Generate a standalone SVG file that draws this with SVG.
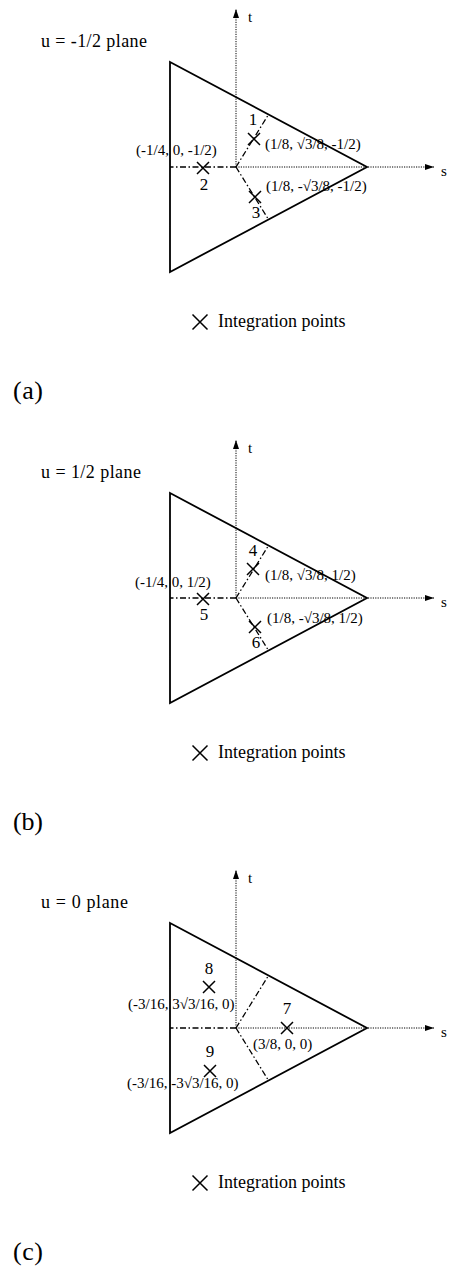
<svg xmlns="http://www.w3.org/2000/svg" width="449" height="1274" viewBox="0 0 449 1274">
<defs>
<style>
text{font-family:"Liberation Serif","Times New Roman",serif;fill:#000}
.tri{fill:none;stroke:#000;stroke-width:1.8;stroke-linejoin:miter}
.axis{fill:none;stroke:#000;stroke-width:1;stroke-dasharray:1.2,1.2}
.dd{fill:none;stroke:#000;stroke-width:1.3;stroke-dasharray:6,2.5,1.5,2.5}
.x{fill:none;stroke:#000;stroke-width:1.5}
.title{font-size:18px}
.num{font-size:17px;text-anchor:middle}
.co{font-size:15px}
.leg{font-size:18px}
.cap{font-size:26px}
</style>
<marker id="arr" markerWidth="10" markerHeight="8" refX="9" refY="4" orient="auto" markerUnits="userSpaceOnUse">
<path d="M0,1 L9,4 L0,7 Z" fill="#000"/>
</marker>
<g id="frame">
<polyline class="axis" points="236,167 236,9" marker-end="url(#arr)"/>
<polyline class="axis" points="236,167 434,167" marker-end="url(#arr)"/>
<polygon class="tri" points="170,62 367,167 170,272"/>
<line class="dd" x1="236" y1="167" x2="170" y2="167"/>
<line class="dd" x1="236" y1="167" x2="268.5" y2="114.5"/>
<line class="dd" x1="236" y1="167" x2="268.5" y2="219.5"/>
<text x="248" y="22" style="font-size:15px">t</text>
<text x="441" y="176" style="font-size:15px">s</text>
<path class="x" d="M192.5,314.5 L207.5,329.5 M207.5,314.5 L192.5,329.5"/>
<text class="leg" x="218" y="327">Integration points</text>
</g>
</defs>

<g id="panel-a">
<use href="#frame"/>
<text class="title" x="41" y="47" textLength="106">u = -1/2 plane</text>
<g id="p1"><path class="x" d="M248,133 L260,145 M260,133 L248,145"/><text class="num" x="253" y="125">1</text><text class="co" x="265" y="149">(1/8, √3/8, -1/2)</text></g>
<g id="p2"><path class="x" d="M197,162 L209,174 M209,162 L197,174"/><text class="num" x="204" y="190">2</text><text class="co" x="136" y="155">(-1/4, 0, -1/2)</text></g>
<g id="p3"><path class="x" d="M249,191 L261,203 M261,191 L249,203"/><text class="num" x="256" y="218">3</text><text class="co" x="266" y="191">(1/8, -√3/8, -1/2)</text></g>
<text class="cap" x="13" y="399" textLength="30">(a)</text>
</g>

<g id="panel-b">
<use href="#frame" y="431"/>
<text class="title" x="41" y="478" textLength="100">u = 1/2 plane</text>
<g id="p4"><path class="x" d="M247,563 L259,575 M259,563 L247,575"/><text class="num" x="253" y="556">4</text><text class="co" x="265" y="580">(1/8, √3/8, 1/2)</text></g>
<g id="p5"><path class="x" d="M197,593 L209,605 M209,593 L197,605"/><text class="num" x="204" y="620">5</text><text class="co" x="135" y="587">(-1/4, 0, 1/2)</text></g>
<g id="p6"><path class="x" d="M249,621 L261,633 M261,621 L249,633"/><text class="num" x="256" y="648">6</text><text class="co" x="267" y="623">(1/8, -√3/8, 1/2)</text></g>
<text class="cap" x="13" y="830" textLength="30">(b)</text>
</g>

<g id="panel-c">
<use href="#frame" y="861"/>
<text class="title" x="41" y="908" textLength="87">u = 0 plane</text>
<g id="p7"><path class="x" d="M281,1022 L293,1034 M293,1022 L281,1034"/><text class="num" x="287" y="1014">7</text><text class="co" x="253" y="1049">(3/8, 0, 0)</text></g>
<g id="p8"><path class="x" d="M203,981 L215,993 M215,981 L203,993"/><text class="num" x="209" y="974">8</text><text class="co" x="128" y="1009">(-3/16, 3√3/16, 0)</text></g>
<g id="p9"><path class="x" d="M204,1065 L216,1077 M216,1065 L204,1077"/><text class="num" x="210" y="1057">9</text><text class="co" x="127" y="1088">(-3/16, -3√3/16, 0)</text></g>
<text class="cap" x="13" y="1260" textLength="30">(c)</text>
</g>
</svg>
